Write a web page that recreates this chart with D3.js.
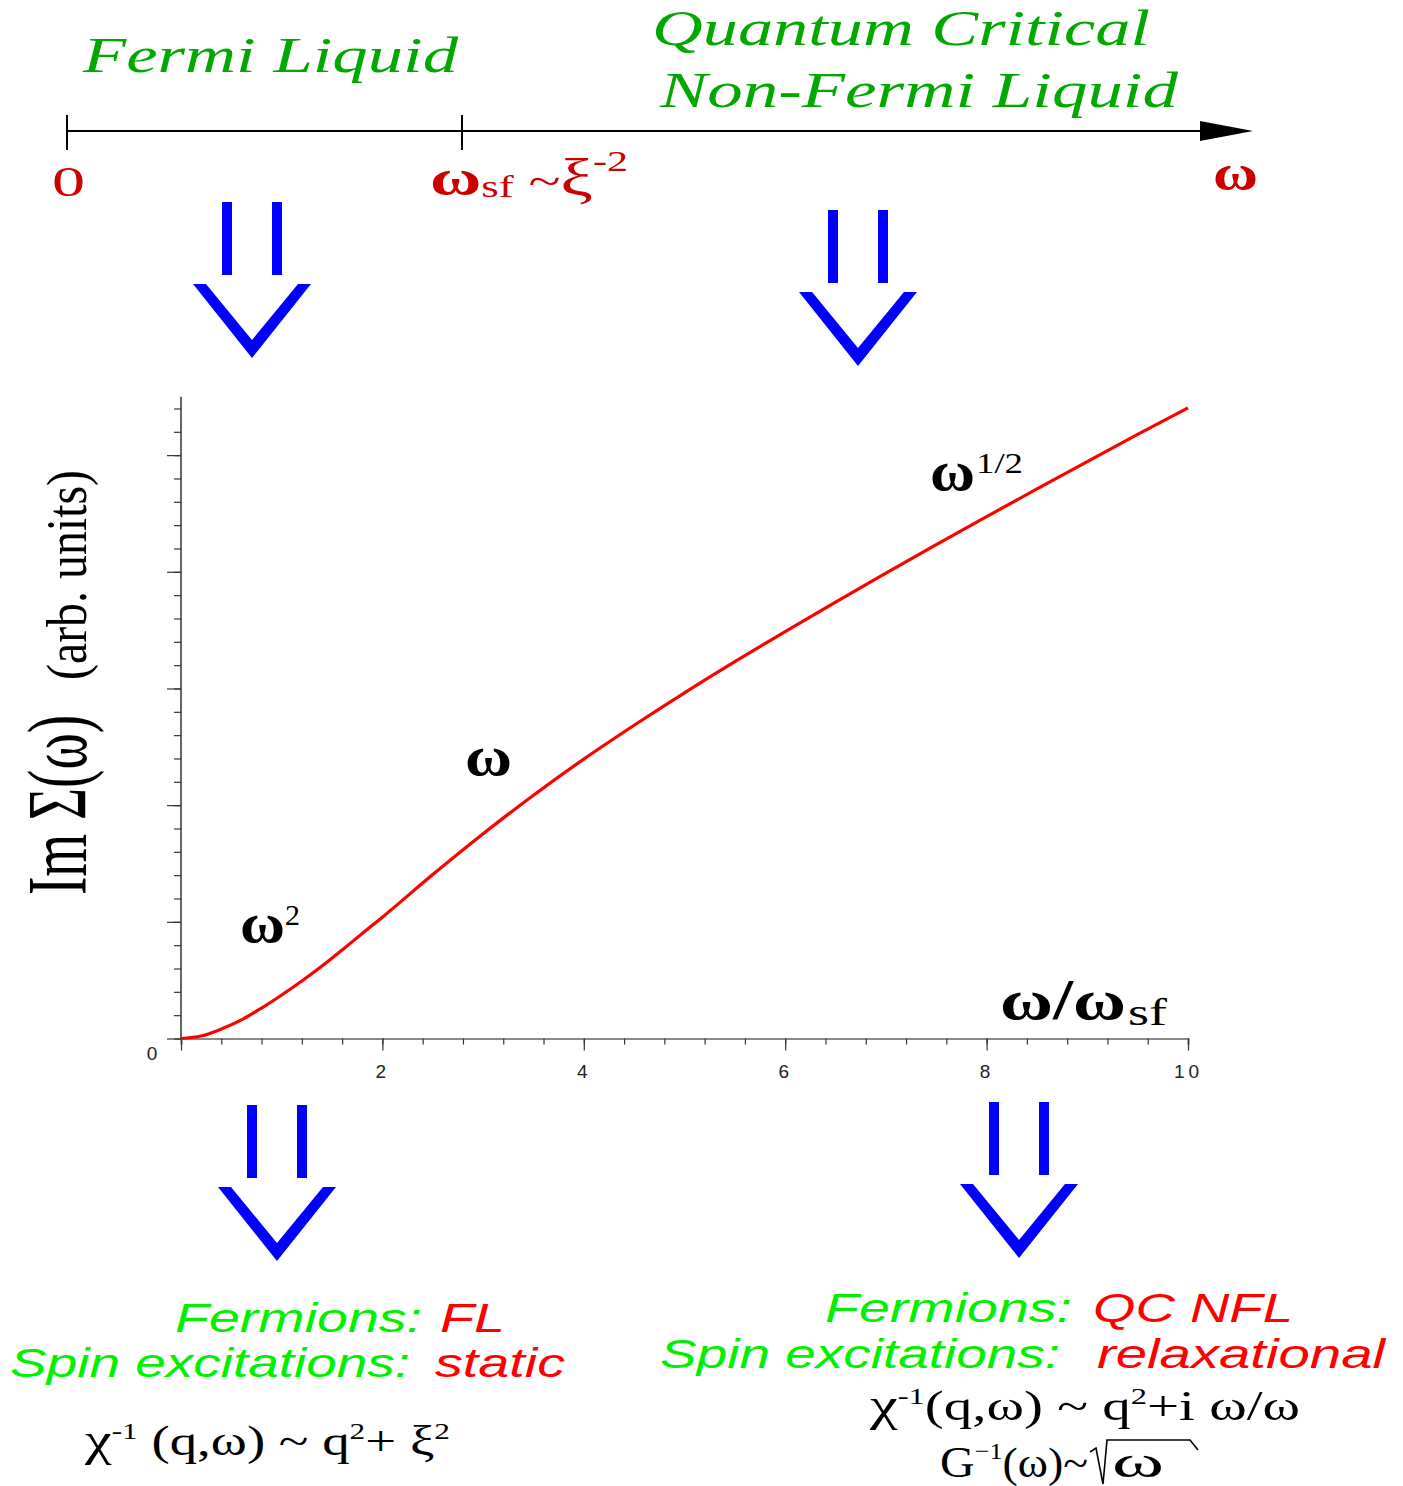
<!DOCTYPE html>
<html>
<head>
<meta charset="utf-8">
<script src="https://cdn.jsdelivr.net/npm/d3@7"></script>
<style>
  html, body { margin: 0; padding: 0; background: #fff; }
  svg { display: block; }
</style>
</head>
<body>
<script>
// Imaginary part of the self-energy across the FL -> quantum-critical crossover
const omega = [0, 0.2, 0.4, 0.6, 0.8, 1.0, 1.2, 1.4, 1.6, 1.8, 2.0, 2.5, 3.0, 3.5, 4.0, 4.5,
               5.0, 5.5, 6.0, 6.5, 7.0, 7.5, 8.0, 8.5, 9.0, 9.5, 10];
const imSigma = [0, 0.021, 0.081, 0.159, 0.261, 0.373, 0.493, 0.621, 0.759, 0.900, 1.040, 1.405,
                 1.755, 2.085, 2.395, 2.685, 2.963, 3.230, 3.488, 3.740, 3.988, 4.233, 4.473,
                 4.710, 4.945, 5.178, 5.405];
const xMajorTicks = [0, 2, 4, 6, 8, 10];
const xTickLabels = ["", "2", "4", "6", "8", "10"];
const yMajorTicks = [0, 1, 2, 3, 4, 5];

const W = 1403, H = 1486;
const SERIF = "'Liberation Serif', 'Times New Roman', serif";
const SANS = "'Liberation Sans', Arial, sans-serif";
const DARK_RED = "#cc0000", GREEN_DK = "#00a800", GREEN = "#00f000", RED = "#ff0000", BLUE = "#0000ff";

const svg = d3.select("body").append("svg")
  .attr("width", W).attr("height", H)
  .attr("viewBox", `0 0 ${W} ${H}`);

// generic text helper
function label(parent, x, y, str, o = {}) {
  const t = parent.append("text")
    .attr("x", x).attr("y", y)
    .attr("font-family", o.family || SERIF)
    .attr("font-size", o.size || 40)
    .attr("font-style", o.italic ? "italic" : "normal")
    .attr("font-weight", o.bold ? "bold" : "normal")
    .attr("fill", o.fill || "#000")
    .attr("text-anchor", o.anchor || "start")
    .text(str);
  if (o.len) t.attr("textLength", o.len).attr("lengthAdjust", o.adjust || "spacingAndGlyphs");
  if (o.transform) t.attr("transform", o.transform);
  return t;
}

// mixed-size text: parts are [text, size, dy, weight]
function rich(parent, x0, y0, parts, o = {}) {
  const t = parent.append("text").attr("x", x0).attr("y", y0)
    .attr("font-family", o.family || SERIF).attr("fill", o.fill || "#000");
  parts.forEach(([s, sz, dy, wt]) => t.append("tspan")
    .attr("font-size", sz).attr("dy", dy || 0).attr("font-weight", wt || "normal").text(s));
  if (o.len) t.attr("textLength", o.len).attr("lengthAdjust", "spacingAndGlyphs");
  return t;
}

// ---------- top frequency axis ----------
const freqAxis = svg.append("g");
freqAxis.append("line").attr("x1", 67).attr("x2", 1208).attr("y1", 131).attr("y2", 131)
  .attr("stroke", "#000").attr("stroke-width", 2);
freqAxis.append("path").attr("d", "M1200,121 L1253,131 L1200,141 Z").attr("fill", "#000");
[67, 462].forEach(x => freqAxis.append("line").attr("x1", x).attr("x2", x).attr("y1", 115).attr("y2", 150)
  .attr("stroke", "#000").attr("stroke-width", 2));

label(freqAxis, 83, 72, "Fermi Liquid", { italic: true, size: 50, fill: GREEN_DK, len: 375 });
label(freqAxis, 652, 45, "Quantum Critical", { italic: true, size: 50, fill: GREEN_DK, len: 498 });
label(freqAxis, 660, 107, "Non-Fermi Liquid", { italic: true, size: 50, fill: GREEN_DK, len: 518 });

label(freqAxis, 52, 196, "0", { size: 42, fill: DARK_RED, len: 33 });
rich(freqAxis, 430, 195, [["ω", 50, 0, "bold"], ["sf", 32, 2], [" ~", 42, -2], ["ξ", 52, 0], ["-2", 30, -24]],
  { fill: DARK_RED, len: 198 });
label(freqAxis, 1213, 190, "ω", { size: 50, bold: true, fill: DARK_RED, len: 45 });

// ---------- blue "double-shaft" arrows ----------
function bigArrow(cx, y0) {
  const g = svg.append("g").attr("fill", BLUE);
  [-25, 25].forEach(dx => g.append("rect").attr("x", cx + dx - 5).attr("y", y0).attr("width", 10).attr("height", 73));
  const vt = y0 + 82, vb = y0 + 156;
  g.append("path").attr("d",
    `M${cx - 59},${vt} L${cx - 46},${vt} L${cx},${vb - 18} L${cx + 46},${vt} L${cx + 59},${vt} L${cx},${vb} Z`);
}
bigArrow(252, 202);
bigArrow(858, 210);
bigArrow(277, 1105);
bigArrow(1019, 1102);

// ---------- main plot ----------
const x = d3.scaleLinear().domain([0, 10]).range([181, 1188]);
const y = d3.scaleLinear().domain([0, 5.5]).range([1038.5, 396.8]);

const plot = svg.append("g");

// x axis: minor ticks every 0.4, major every 2
const xMinor = d3.axisBottom(x).tickValues(d3.range(0, 10.01, 0.4)).tickSize(6).tickFormat("");
const gxm = plot.append("g").attr("transform", `translate(0,${y(0)})`).call(xMinor);
gxm.select(".domain").attr("stroke", "#8a8a8a").attr("stroke-width", 2);
gxm.selectAll(".tick line").attr("stroke", "#333").attr("stroke-width", 1.2);

const xMajor = d3.axisBottom(x).tickValues(xMajorTicks).tickSize(12).tickPadding(14)
  .tickFormat((d, i) => xTickLabels[i]);
const gxM = plot.append("g").attr("transform", `translate(0,${y(0)})`).call(xMajor);
gxM.select(".domain").remove();
gxM.selectAll(".tick line").attr("stroke", "#333").attr("stroke-width", 1.2);
gxM.selectAll(".tick text").attr("font-family", SANS).attr("font-size", 19)
  .attr("letter-spacing", 4).attr("fill", "#222");

// y axis: minor ticks every 0.2, major every 1
const yMinor = d3.axisLeft(y).tickValues(d3.range(0, 5.41, 0.2)).tickSize(7).tickFormat("");
const gym = plot.append("g").attr("transform", `translate(${x(0)},0)`).call(yMinor);
gym.select(".domain").attr("stroke", "#333").attr("stroke-width", 1.5).attr("d", `M0,${y(5.5)}V${y(0)}`);
gym.selectAll(".tick line").attr("stroke", "#333").attr("stroke-width", 1.2);
const yMajor = d3.axisLeft(y).tickValues(yMajorTicks).tickSize(14).tickFormat("");
const gyM = plot.append("g").attr("transform", `translate(${x(0)},0)`).call(yMajor);
gyM.select(".domain").remove();
gyM.selectAll(".tick line").attr("stroke", "#333").attr("stroke-width", 1.2);

label(plot, 152, 1060, "0", { family: SANS, size: 19, fill: "#222", anchor: "middle" });

// the curve
const line = d3.line().x((d, i) => x(omega[i])).y(d => y(d)).curve(d3.curveMonotoneX);
plot.append("path").datum(imSigma).attr("d", line)
  .attr("fill", "none").attr("stroke", RED).attr("stroke-width", 3.2);

// regime labels on the curve
label(plot, 240, 942, "ω", { size: 56, bold: true, len: 45 });
label(plot, 285, 925, "2", { size: 30 });
label(plot, 465, 775, "ω", { size: 56, bold: true, len: 47 });
label(plot, 930, 490, "ω", { size: 56, bold: true, len: 45 });
label(plot, 976, 473, "1/2", { size: 30, len: 47 });
label(plot, 1000, 1019, "ω/ω", { size: 56, bold: true, len: 126 });
label(plot, 1128, 1025, "sf", { size: 38, len: 39 });

// y axis title (condensed)
const yl = svg.append("g");
label(yl, 0, 0, "Im Σ(ω)", { size: 84, len: 180, transform: "translate(86,895) rotate(-90)" });
label(yl, 0, 0, "(arb. units)", { size: 56, len: 210, transform: "translate(86,680) rotate(-90)" });

// ---------- bottom annotations ----------
const bot = svg.append("g");
label(bot, 175, 1332, "Fermions:", { family: SANS, italic: true, size: 40, fill: GREEN, len: 247 });
label(bot, 440, 1332, "FL", { family: SANS, italic: true, size: 40, fill: RED, len: 65 });
label(bot, 10, 1377, "Spin excitations:", { family: SANS, italic: true, size: 40, fill: GREEN, len: 400 });
label(bot, 435, 1377, "static", { family: SANS, italic: true, size: 40, fill: RED, len: 130 });

label(bot, 825, 1322, "Fermions:", { family: SANS, italic: true, size: 40, fill: GREEN, len: 247 });
label(bot, 1093, 1322, "QC NFL", { family: SANS, italic: true, size: 40, fill: RED, len: 200 });
label(bot, 660, 1368, "Spin excitations:", { family: SANS, italic: true, size: 40, fill: GREEN, len: 400 });
label(bot, 1097, 1368, "relaxational", { family: SANS, italic: true, size: 40, fill: RED, len: 288 });

rich(bot, 85, 1455, [["χ", 46], ["-1", 24, -16], [" (q,ω) ~ q", 42, 16], ["2", 24, -16], ["+ ξ", 42, 16], ["2", 24, -16]],
  { len: 365 });
rich(bot, 870, 1420, [["χ", 46], ["-1", 24, -16], ["(q,ω) ~ q", 42, 16], ["2", 24, -16], ["+i ω/ω", 42, 16]],
  { len: 430 });
rich(bot, 940, 1477, [["G", 44], ["−1", 24, -18], ["(ω)~", 42, 18]], { len: 148 });
// radical sign over ω
const rx = 1090;
bot.append("path")
  .attr("d", `M${rx},1452 L${rx + 6},1448 L${rx + 13},1484 L${rx + 17},1440 L${rx + 100},1440 L${rx + 108},1450`)
  .attr("fill", "none").attr("stroke", "#000").attr("stroke-width", 1.6);
label(bot, rx + 22, 1477, "ω", { size: 44, len: 52 });
</script>
</body>
</html>
